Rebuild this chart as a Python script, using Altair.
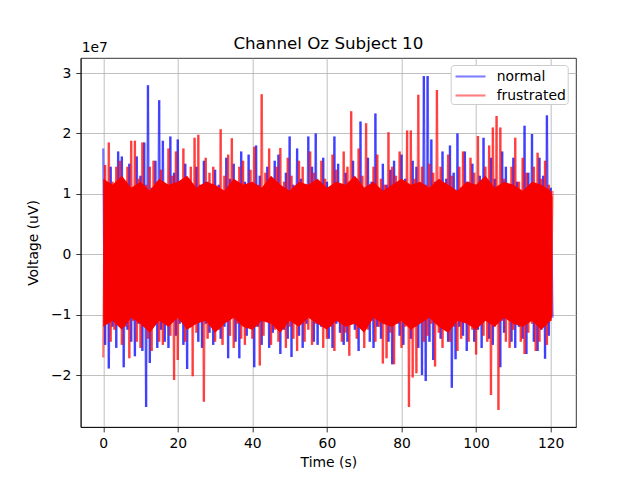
import altair as alt
import pandas as pd

# Oz channel, subject 10, voltage in units of 1e7 uV (matches the axis offset text)
# normal: peaks on whole seconds, troughs on the half seconds after them
normal_peaks = [
    1.75, 1.15, 1.45, 1.10, 1.70, 1.62, 1.20, 1.50, 1.05, 1.62,
    1.30, 1.85, 2.80, 1.10, 1.55, 2.55, 1.88, 1.15, 1.95, 1.35,
    1.90, 1.10, 1.50, 1.25, 1.05, 1.45, 1.15, 1.55, 1.20, 1.10,
    1.40, 1.15, 1.05, 1.60, 1.25, 1.50, 1.10, 1.70, 1.20, 1.65,
    1.15, 1.80, 1.30, 1.05, 1.45, 1.20, 1.55, 1.65, 1.10, 1.35,
    1.95, 1.15, 1.75, 1.25, 1.05, 1.95, 1.45, 2.00, 1.10, 1.60,
    1.20, 1.05, 1.95, 1.50, 1.15, 1.35, 1.10, 1.55, 1.25, 2.20,
    1.10, 1.60, 1.20, 2.33, 1.05, 1.50, 1.15, 1.40, 1.55, 1.10,
    1.65, 1.25, 1.10, 1.55, 1.45, 1.15, 2.95, 2.95, 1.90, 1.20,
    1.10, 1.70, 1.25, 1.80, 1.35, 2.00, 1.10, 1.70, 1.20, 1.50,
    1.15, 1.30, 1.93, 1.05, 1.60, 1.25, 1.10, 1.70, 1.45, 1.15,
    1.60, 1.20, 1.05, 2.13, 1.35, 1.99, 1.15, 1.60, 1.30, 2.30,
    1.10,
]
normal_troughs = [
    -1.50, -1.89, -1.20, -1.55, -1.10, -1.87, -1.25, -1.45, -1.69, -1.15,
    -1.60, -2.53, -1.80, -1.10, -1.55, -1.25, -1.45, -1.55, -1.10, -1.35,
    -1.15, -1.50, -1.90, -1.20, -1.05, -1.45, -1.55, -1.15, -1.30, -1.50,
    -1.10, -1.40, -1.20, -1.72, -1.05, -1.45, -1.72, -1.15, -1.35, -1.10,
    -1.87, -1.20, -1.50, -1.10, -1.55, -1.30, -1.05, -1.65, -1.25, -1.40,
    -1.70, -1.10, -1.35, -1.55, -1.15, -1.05, -1.45, -1.50, -1.20, -1.10,
    -1.40, -1.55, -1.15, -1.30, -1.50, -1.45, -1.10, -1.25, -1.60, -1.15,
    -1.05, -1.45, -1.55, -1.20, -1.40, -1.10, -1.45, -1.82, -1.15, -1.35,
    -1.50, -1.10, -1.40, -1.20, -1.55, -2.00, -2.10, -1.45, -1.75, -1.15,
    -1.40, -1.05, -1.45, -2.21, -1.74, -1.20, -1.35, -1.60, -1.10, -1.45,
    -1.25, -1.55, -1.10, -1.40, -1.50, -1.15, -1.87, -1.30, -1.05, -1.45,
    -1.55, -1.20, -1.40, -1.65, -1.10, -1.45, -1.60, -1.25, -1.73, -1.35,
    -1.05,
]
# frustrated: troughs on whole seconds, peaks on the half seconds after them
frustrated_troughs = [
    -1.71, -1.15, -1.45, -1.25, -1.05, -1.50, -1.20, -1.72, -1.10, -1.45,
    -1.55, -1.20, -1.40, -1.60, -1.10, -1.45, -1.50, -1.15, -1.35, -2.08,
    -1.75, -1.10, -1.45, -1.20, -2.02, -1.30, -1.05, -2.44, -1.40, -1.15,
    -1.45, -1.25, -1.50, -1.10, -1.35, -1.55, -1.15, -1.40, -1.50, -1.10,
    -1.40, -1.20, -1.84, -1.35, -1.05, -1.50, -1.25, -1.45, -1.10, -1.55,
    -1.20, -1.40, -1.60, -1.10, -1.45, -1.25, -1.50, -1.15, -1.05, -1.55,
    -1.40, -1.20, -1.60, -1.10, -1.45, -1.30, -1.68, -1.15, -1.40, -1.05,
    -1.55, -1.25, -1.10, -1.45, -1.20, -1.81, -1.72, -1.30, -1.82, -1.15,
    -1.55, -1.20, -2.53, -2.04, -1.97, -1.10, -1.45, -1.35, -1.15, -1.86,
    -1.30, -1.55, -1.10, -1.45, -1.20, -1.60, -1.40, -1.05, -1.45, -1.25,
    -1.66, -1.15, -1.35, -1.45, -2.33, -1.20, -2.58, -1.10, -1.45, -1.55,
    -1.25, -1.10, -1.45, -1.65, -1.30, -1.15, -1.60, -1.45, -1.20, -1.50,
    -1.10,
]
frustrated_peaks = [
    1.48, 1.85, 1.20, 1.45, 1.55, 1.10, 1.45, 1.88, 1.88, 1.25,
    1.85, 1.15, 1.45, 1.55, 1.20, 1.40, 1.10, 1.75, 1.30, 1.70,
    1.20, 1.75, 1.10, 1.45, 1.93, 1.98, 1.15, 1.60, 1.35, 1.45,
    1.10, 2.07, 1.30, 1.65, 1.92, 1.20, 1.45, 1.55, 1.05, 1.40,
    1.78, 1.15, 2.65, 1.35, 1.75, 1.10, 1.45, 1.76, 1.20, 1.60,
    1.30, 1.10, 1.55, 1.45, 1.15, 1.70, 1.35, 1.05, 1.55, 1.25,
    1.10, 1.65, 1.40, 1.15, 1.70, 1.45, 2.37, 1.20, 1.75, 1.30,
    2.17, 1.10, 1.45, 1.65, 1.25, 1.15, 2.02, 1.45, 1.30, 1.70,
    1.10, 2.05, 2.05, 1.25, 2.64, 1.45, 1.15, 1.50, 1.35, 2.72,
    1.45, 1.10, 1.65, 1.30, 1.05, 1.45, 1.70, 1.20, 1.60, 1.35,
    1.96, 1.15, 1.45, 1.80, 2.10, 2.29, 2.10, 1.25, 1.10, 1.45,
    1.93, 1.20, 1.60, 1.35, 1.05, 1.45, 1.68, 1.25, 1.55, 1.15,
    1.05,
]

# the densely overdrawn middle of the trace, which shows as solid red
core_t = [k * 2.5 for k in range(49)] + [120.5]
core_hi = [
    1.25, 1.15, 1.30, 1.10, 1.20, 1.05, 1.25, 1.15, 1.20, 1.30,
    1.10, 1.20, 1.15, 1.05, 1.25, 1.15, 1.20, 1.10, 1.30, 1.15,
    1.05, 1.20, 1.15, 1.25, 1.10, 1.20, 1.15, 1.30, 1.10, 1.20,
    1.05, 1.15, 1.25, 1.15, 1.20, 1.10, 1.25, 1.15, 1.05, 1.20,
    1.15, 1.30, 1.10, 1.20, 1.15, 1.05, 1.20, 1.15, 1.05, 0.95,
]
core_lo = [
    -1.20, -1.10, -1.25, -1.05, -1.15, -1.30, -1.10, -1.20, -1.05, -1.25,
    -1.15, -1.10, -1.30, -1.15, -1.05, -1.20, -1.25, -1.10, -1.15, -1.30,
    -1.10, -1.20, -1.05, -1.15, -1.25, -1.10, -1.20, -1.15, -1.30, -1.05,
    -1.15, -1.20, -1.10, -1.25, -1.15, -1.05, -1.20, -1.30, -1.10, -1.15,
    -1.25, -1.10, -1.20, -1.05, -1.15, -1.20, -1.10, -1.25, -1.10, -1.00,
]

series_names = ["normal", "frustrated"]
series_colors = ["blue", "red"]
offset_label = ["1e7"]

FONT = "DejaVu Sans"


def trace(name, whole, half):
    # interleave whole-second and half-second samples, then cut into segments
    t, v = [], []
    for k in range(len(whole)):
        t += [k, k + 0.5]
        v += [whole[k], half[k]]
    return pd.DataFrame({
        "series": name,
        "t": t[:-1], "v": v[:-1],
        "t2": t[1:], "v2": v[1:],
    })


segments = pd.concat([
    trace("normal", normal_peaks, normal_troughs),
    trace("frustrated", frustrated_troughs, frustrated_peaks),
], ignore_index=True)
segments["order"] = segments.index

core = pd.DataFrame({"t": core_t, "hi": core_hi, "lo": core_lo})

x_scale = alt.Scale(domain=[-6.04, 126.8], nice=False, zero=False)
y_scale = alt.Scale(domain=[-2.86, 3.25], nice=False, zero=False)

lines = (
    alt.Chart(segments)
    .mark_rule(strokeWidth=2.3, opacity=0.5)
    .encode(
        alt.X("t:Q", scale=x_scale, title="Time (s)",
              axis=alt.Axis(values=[0, 20, 40, 60, 80, 100, 120])),
        alt.Y("v:Q", scale=y_scale, title="Voltage (uV)",
              axis=alt.Axis(values=[-2, -1, 0, 1, 2, 3], format="d")),
        x2="t2:Q",
        y2="v2:Q",
        color=alt.Color(
            "series:N",
            scale=alt.Scale(domain=series_names, range=series_colors),
            legend=alt.Legend(
                title=None,
                orient="none",
                legendX=370,
                legendY=7,
                padding=1,
                fillColor="white",
                strokeColor="#cccccc",
                cornerRadius=3,
                symbolType="M-0.74,0L2.59,0",
                symbolSize=324,
                symbolStrokeWidth=2.08,
                symbolOpacity=0.5,
                labelOffset=24,
                labelFontSize=13.9,
                labelFont=FONT,
                labelColor="black",
                rowPadding=1,
            ),
        ),
        order="order:Q",
    )
)

band = (
    alt.Chart(core)
    .mark_area(color="#f70000", opacity=1)
    .encode(x=alt.X("t:Q", scale=x_scale), y=alt.Y("hi:Q", scale=y_scale), y2="lo:Q")
)

offset_text = (
    alt.Chart(pd.DataFrame({"label": offset_label}))
    .mark_text(align="left", baseline="middle", fontSize=13.9, font=FONT, color="black")
    .encode(text="label:N", x=alt.value(1), y=alt.value(-10))
)

chart = (
    alt.layer(lines, band, offset_text)
    .properties(
        width=495.3,
        height=369,
        title=alt.TitleParams(
            "Channel Oz Subject 10",
            fontSize=16.7,
            font=FONT,
            fontWeight="normal",
            color="black",
            anchor="middle",
            frame="group",
            baseline="alphabetic",
            offset=8.5,
            dy=33.5,
        ),
        autosize=alt.AutoSizeParams(type="none"),
        padding={"left": 72.7, "top": 50, "right": 56, "bottom": 45},
    )
    .configure_view(stroke="black", strokeWidth=0.8)
    .configure_axis(
        grid=True,
        gridColor="#b0b0b0",
        gridWidth=0.8,
        domainColor="black",
        domainWidth=0.8,
        tickColor="black",
        tickWidth=0.8,
        tickSize=4.9,
        labelPadding=4.9,
        labelFont=FONT,
        labelFontSize=13.9,
        labelColor="black",
        titleFont=FONT,
        titleFontSize=13.9,
        titleFontWeight="normal",
        titleColor="black",
    )
    .configure_axisX(titlePadding=5)
    .configure_axisY(titlePadding=10)
)

chart.save("out.html", embed_options={"renderer": "svg", "actions": False})
